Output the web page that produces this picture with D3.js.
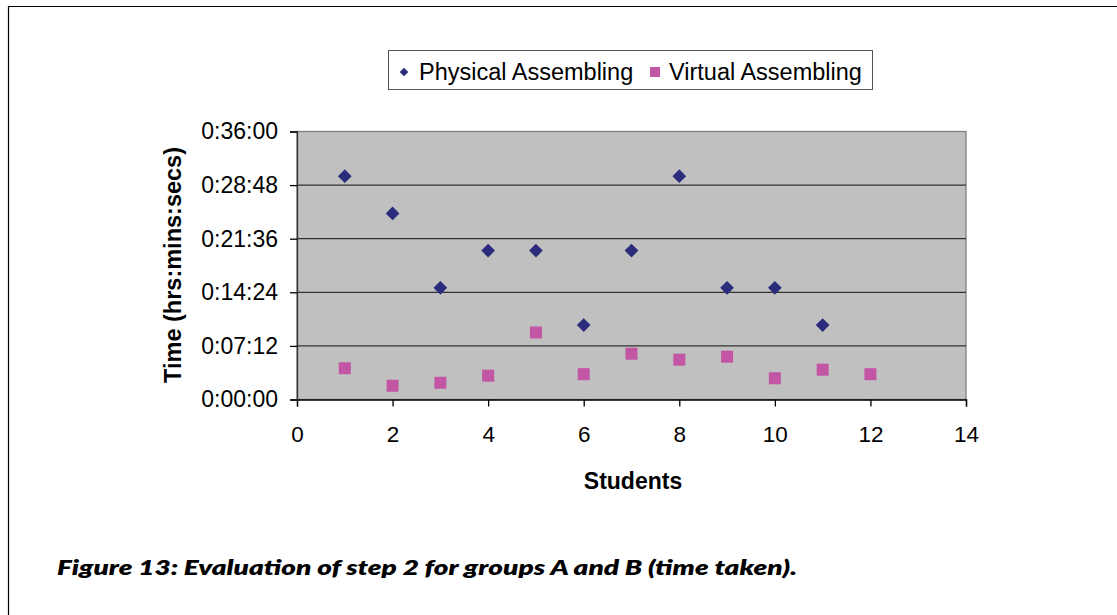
<!DOCTYPE html>
<html>
<head>
<meta charset="utf-8">
<script src="https://cdn.jsdelivr.net/npm/d3@7"></script>
<style>
  body { margin: 0; background: #fff; }
  text { font-family: "Liberation Sans", Arial, sans-serif; }
</style>
</head>
<body>
<div id="chart"></div>
<script>
// students on the x axis, times in seconds
var physicalStudents = [1, 2, 3, 4, 5, 6, 7, 8, 9, 10, 11]
var physicalTimes = [1800, 1500, 900, 1200, 1200, 600, 1200, 1800, 900, 900, 600]
var virtualStudents = [1, 2, 3, 4, 5, 6, 7, 8, 9, 10, 11, 12]
var virtualTimes = [252, 111, 135, 192, 540, 204, 369, 321, 345, 171, 240, 204]
var xTicks = [0, 2, 4, 6, 8, 10, 12, 14]
var yTicks = [0, 432, 864, 1296, 1728, 2160]
var seriesNames = ["Physical Assembling", "Virtual Assembling"]

var navy = "#2b2d7c"
var pink = "#c355a5"

function hms(s) {
    var h = Math.floor(s / 3600)
    var m = Math.floor((s % 3600) / 60)
    var sec = s % 60
    return h + ":" + d3.format("02")(m) + ":" + d3.format("02")(sec)
}

var svg = d3.select("#chart")
    .append("svg")
    .attr("width", 1117)
    .attr("height", 615)

// page frame (left and top edges only)
svg.append("path")
    .attr("d", "M8.5,615 L8.5,6.5 L1117,6.5")
    .attr("fill", "none")
    .attr("stroke", "#000")
    .attr("stroke-width", 1.2)

var x = d3.scaleLinear().domain([0, 14]).range([297, 966])
var y = d3.scaleLinear().domain([0, 2160]).range([399.5, 131.5])

// plot area
svg.append("rect")
    .attr("x", x(0))
    .attr("y", y(2160))
    .attr("width", x(14) - x(0))
    .attr("height", y(0) - y(2160))
    .attr("fill", "#c0c0c0")
    .attr("stroke", "#808080")
    .attr("stroke-width", 1.3)

// gridlines
svg.append("g")
    .selectAll("line")
    .data(yTicks.slice(1, -1))
    .enter()
    .append("line")
    .attr("x1", x(0))
    .attr("x2", x(14))
    .attr("y1", d => y(d))
    .attr("y2", d => y(d))
    .attr("stroke", "#333")
    .attr("stroke-width", 1.3)

var xAxis = svg.append("g")
    .attr("transform", "translate(0," + y(0) + ")")
    .call(d3.axisBottom(x).tickValues(xTicks).tickSize(7).tickPadding(20).tickFormat(d3.format("d")))
xAxis.select(".domain").attr("stroke", "#000").attr("stroke-width", 1.3)
xAxis.selectAll(".tick line").attr("stroke", "#000").attr("stroke-width", 1.3)
xAxis.selectAll("text")
    .style("font-family", "Liberation Sans, Arial, sans-serif")
    .style("font-size", "22.5px")
    .attr("fill", "#000")

var yAxis = svg.append("g")
    .attr("transform", "translate(" + x(0) + ",0)")
    .call(d3.axisLeft(y).tickValues(yTicks).tickSize(7).tickPadding(12).tickFormat(hms))
yAxis.select(".domain").attr("stroke", "#333").attr("stroke-width", 1.3)
yAxis.selectAll(".tick line").attr("stroke", "#000").attr("stroke-width", 1.3)
yAxis.selectAll("text")
    .style("font-family", "Liberation Sans, Arial, sans-serif")
    .style("font-size", "23px")
    .attr("fill", "#000")

// markers
svg.append("g")
    .selectAll("path")
    .data(physicalStudents)
    .enter()
    .append("path")
    .attr("d", d3.symbol().type(d3.symbolDiamond2).size(120))
    .attr("transform", (d, i) => "translate(" + x(d) + "," + y(physicalTimes[i]) + ")")
    .attr("fill", navy)

svg.append("g")
    .selectAll("rect")
    .data(virtualStudents)
    .enter()
    .append("rect")
    .attr("x", d => x(d) - 6)
    .attr("y", (d, i) => y(virtualTimes[i]) - 6)
    .attr("width", 12)
    .attr("height", 12)
    .attr("fill", pink)

// axis titles
svg.append("text")
    .text("Students")
    .attr("x", 633)
    .attr("y", 489)
    .attr("text-anchor", "middle")
    .style("font-size", "23px")
    .style("font-weight", 700)

svg.append("text")
    .text("Time (hrs:mins:secs)")
    .attr("transform", "translate(181,265) rotate(-90)")
    .attr("text-anchor", "middle")
    .style("font-size", "23.5px")
    .style("font-weight", 700)

// legend
var legend = svg.append("g")
legend.append("rect")
    .attr("x", 388.5)
    .attr("y", 50.5)
    .attr("width", 484)
    .attr("height", 39)
    .attr("fill", "#fff")
    .attr("stroke", "#555")
    .attr("stroke-width", 1)

legend.append("path")
    .attr("d", d3.symbol().type(d3.symbolDiamond2).size(48))
    .attr("transform", "translate(404,72)")
    .attr("fill", navy)
legend.append("text")
    .text(seriesNames[0])
    .attr("x", 419)
    .attr("y", 80)
    .style("font-size", "23.5px")

legend.append("rect")
    .attr("x", 650)
    .attr("y", 67)
    .attr("width", 10)
    .attr("height", 10)
    .attr("fill", pink)
legend.append("text")
    .text(seriesNames[1])
    .attr("x", 669)
    .attr("y", 80)
    .style("font-size", "23.5px")

// caption
svg.append("text")
    .text("Figure 13: Evaluation of step 2 for groups A and B (time taken).")
    .attr("x", 57)
    .attr("y", 575)
    .attr("textLength", 740)
    .attr("lengthAdjust", "spacingAndGlyphs")
    .style("font-family", "Lato, 'Open Sans', sans-serif")
    .style("font-size", "21px")
    .style("font-weight", 800)
    .style("font-style", "italic")
</script>
</body>
</html>
